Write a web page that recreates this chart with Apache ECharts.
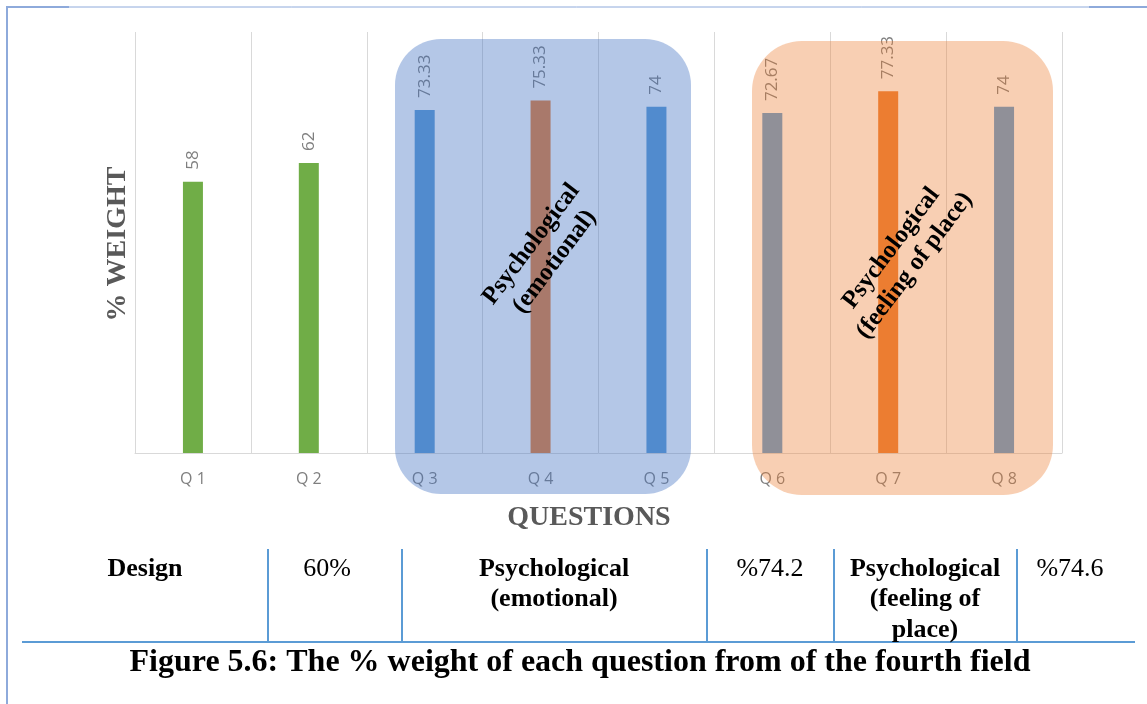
<!DOCTYPE html>
<html>
<head>
<meta charset="utf-8">
<script src="https://cdn.jsdelivr.net/npm/echarts@6/dist/echarts.min.js"></script>
<style>
html,body{margin:0;padding:0;background:#fff;}
#c{width:1147px;height:704px;}
</style>
</head>
<body>
<div id="c"></div>
<script>
// ---- data ----
const categories = ['Q1','Q2','Q3','Q4','Q5','Q6','Q7','Q8'];
const weights = [58, 62, 73.33, 75.33, 74, 72.67, 77.33, 74];
const groupLabels = ['Psychological\n(emotional)', 'Psychological\n(feeling of place)'];
const tableCells = ['Design', '60%', 'Psychological\n(emotional)', '%74.2', 'Psychological\n(feeling of\nplace)', '%74.6'];
const captionText = 'Figure 5.6: The % weight of each question from of the fourth field';
const xTitle = 'QUESTIONS';
const yTitle = '% WEIGHT';

// ---- styles ----
const barColors = ['#70AD47','#70AD47','#5B9BD5','#ED7D31','#5B9BD5','#5B9BD5','#ED7D31','#5B9BD5'];
const serif = '"Liberation Serif","Times New Roman",serif';
const lineBlue = '#5B9BD5';

const chart = echarts.init(document.getElementById('c'), null, {renderer:'canvas'});

const tableX = [145, 327, 554, 770, 925, 1070];
const tableBold = [true, false, true, false, true, false];

const graphics = [
  // page frame
  {type:'line', shape:{x1:6, y1:7, x2:1147, y2:7}, style:{stroke:'#8EAADB', lineWidth:1}, z:1},
  {type:'rect', shape:{x:6, y:6, width:63, height:2}, style:{fill:'#8EAADB'}, z:1},
  {type:'rect', shape:{x:1089, y:6, width:58, height:2}, style:{fill:'#8EAADB'}, z:1},
  {type:'rect', shape:{x:6, y:6, width:2, height:698}, style:{fill:'#8EAADB'}, z:1},
  // highlight boxes (semi-transparent, drawn above bars)
  {type:'rect', shape:{x:395, y:39, width:296, height:455, r:46}, style:{fill:'rgba(68,114,196,0.40)'}, z:20},
  {type:'rect', shape:{x:752, y:41, width:301, height:454, r:50}, style:{fill:'rgba(237,125,49,0.37)'}, z:20},
  // rotated group labels
  {type:'text', x:543, y:253, rotation:53*Math.PI/180, z:21,
    style:{text:groupLabels[0], font:'bold 25px '+serif, fill:'#000', align:'center', verticalAlign:'middle', lineHeight:29}},
  {type:'text', x:903, y:257, rotation:53*Math.PI/180, z:21,
    style:{text:groupLabels[1], font:'bold 25px '+serif, fill:'#000', align:'center', verticalAlign:'middle', lineHeight:29}},
  // axis titles
  {type:'text', x:118, y:244, rotation:Math.PI/2, z:2,
    style:{text:yTitle, font:'bold 28px '+serif, fill:'#595959', align:'center', verticalAlign:'middle'}},
  {type:'text', x:589, y:518, z:2,
    style:{text:xTitle, font:'bold 28px '+serif, fill:'#595959', align:'center', verticalAlign:'middle'}},
  // table lines
  {type:'line', shape:{x1:22, y1:642, x2:1135, y2:642}, style:{stroke:lineBlue, lineWidth:2}, z:1},
];
[268, 402, 707, 834, 1017].forEach(x => {
  graphics.push({type:'line', shape:{x1:x, y1:549, x2:x, y2:642}, style:{stroke:lineBlue, lineWidth:2}, z:1});
});
tableCells.forEach((t, i) => {
  graphics.push({type:'text', x:tableX[i], y:554, z:2,
    style:{text:t, font:(tableBold[i]?'bold ':'')+'26px '+serif, fill:'#000', align:'center', verticalAlign:'top', lineHeight:30.5}});
});
graphics.push({type:'text', x:580, y:663, z:2,
  style:{text:captionText, font:'bold 32px '+serif, fill:'#000', align:'center', verticalAlign:'middle'}});

chart.setOption({
  animation:false,
  backgroundColor:'#fff',
  grid:{left:135, right:85, top:32, bottom:251, containLabel:false},
  xAxis:{
    type:'category', data:categories, boundaryGap:true,
    axisLine:{show:true, lineStyle:{color:'#D9D9D9', width:1}},
    axisTick:{show:false},
    axisLabel:{color:'#7F7F7F', fontFamily:'"Open Sans"', fontSize:16, margin:18,
      formatter: v => v.replace('Q','Q ')},
    splitLine:{show:true, lineStyle:{color:'#D9D9D9', width:1}}
  },
  yAxis:{
    type:'value', min:0, max:90,
    axisLine:{show:false}, axisTick:{show:false}, axisLabel:{show:false}, splitLine:{show:false}
  },
  series:[{
    type:'bar',
    data: weights.map((v,i)=>({value:v, itemStyle:{color:barColors[i]}})),
    barWidth:20,
    label:{show:true, position:'top', rotate:90, align:'left', verticalAlign:'middle', distance:12,
      color:'#7F7F7F', fontFamily:'"Open Sans"', fontSize:17,
      formatter: p => String(p.value)}
  }],
  graphic: graphics
});
</script>
</body>
</html>
